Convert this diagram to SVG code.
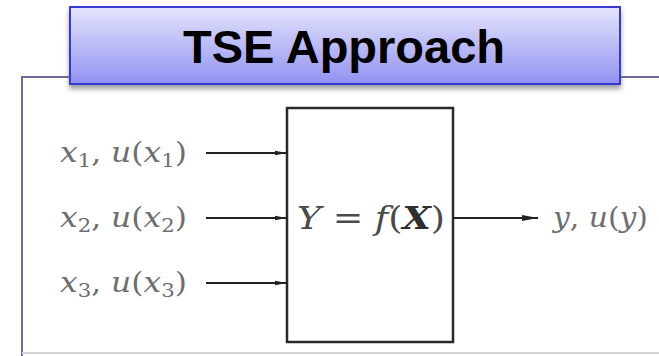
<svg xmlns="http://www.w3.org/2000/svg" width="659" height="356" viewBox="0 0 659 356">
  <defs>
    <linearGradient id="titleGrad" x1="0" y1="0" x2="0" y2="1">
      <stop offset="0" stop-color="#e4e4fc"/>
      <stop offset="1" stop-color="#9292f2"/>
    </linearGradient>
    <filter id="shadow" x="-5%" y="-20%" width="110%" height="150%">
      <feDropShadow dx="0" dy="4" stdDeviation="2.5" flood-color="#777" flood-opacity="0.7"/>
    </filter>
    <marker id="ah" viewBox="0 0 12 6" refX="12" refY="3" markerWidth="12" markerHeight="6" markerUnits="userSpaceOnUse" orient="auto">
      <path d="M0,0.8 L12,3 L0,5.2 Z" fill="#222"/>
    </marker>
    <marker id="ahOut" viewBox="0 0 16 7" refX="16" refY="3.5" markerWidth="16" markerHeight="7" markerUnits="userSpaceOnUse" orient="auto">
      <path d="M0,0.5 L16,3.5 L0,6.5 Z" fill="#222"/>
    </marker>
    <style>
      .frame { fill: none; stroke: #6c6c9c; stroke-width: 2; }
      .floor { fill: none; stroke: #d4d4d8; stroke-width: 2; }
      .title { font-family: "Liberation Sans", Arial, sans-serif; font-weight: bold; font-size: 46px; fill: #000; }
      .block { fill: #fff; stroke: #2a2a2a; stroke-width: 2.5; }
      .conn { fill: none; stroke: #222; stroke-width: 1.8; }
      .lbl { font-family: "DejaVu Serif", "Liberation Serif", serif; font-size: 28px; fill: #6e6e6e; }
      .fx { font-family: "DejaVu Serif", "Liberation Serif", serif; font-size: 31px; fill: #4a4a4a; }
      .i { font-style: italic; }
      .sub { font-size: 19px; }
      .bx { font-weight: bold; font-style: italic; fill: #2e2e2e; }
    </style>
  </defs>

  <rect width="659" height="356" fill="#ffffff"/>

  <g id="frame">
    <path class="frame" d="M22,356 V77 H659"/>
    <path class="floor" d="M22,353 H659"/>
  </g>

  <g id="title">
    <rect x="70" y="7" width="550" height="77" fill="url(#titleGrad)" stroke="#3838d2" stroke-width="2" filter="url(#shadow)"/>
    <text class="title" x="344" y="63" text-anchor="middle" textLength="322" lengthAdjust="spacingAndGlyphs">TSE Approach</text>
  </g>

  <g id="block">
    <rect class="block" x="287" y="108" width="166" height="234"/>
    <text class="fx" x="297" y="229" textLength="148" lengthAdjust="spacingAndGlyphs"><tspan class="i">Y</tspan> = <tspan class="i">f</tspan>(<tspan class="bx">X</tspan>)</text>
  </g>

  <g id="input1">
    <text class="lbl" x="60" y="162" textLength="127" lengthAdjust="spacingAndGlyphs"><tspan class="i">x</tspan><tspan class="sub" dy="5">1</tspan><tspan dy="-5">, </tspan><tspan class="i">u</tspan>(<tspan class="i">x</tspan><tspan class="sub" dy="5">1</tspan><tspan dy="-5">)</tspan></text>
  </g>
  <g id="input2">
    <text class="lbl" x="60" y="227" textLength="127" lengthAdjust="spacingAndGlyphs"><tspan class="i">x</tspan><tspan class="sub" dy="5">2</tspan><tspan dy="-5">, </tspan><tspan class="i">u</tspan>(<tspan class="i">x</tspan><tspan class="sub" dy="5">2</tspan><tspan dy="-5">)</tspan></text>
  </g>
  <g id="input3">
    <text class="lbl" x="60" y="292" textLength="127" lengthAdjust="spacingAndGlyphs"><tspan class="i">x</tspan><tspan class="sub" dy="5">3</tspan><tspan dy="-5">, </tspan><tspan class="i">u</tspan>(<tspan class="i">x</tspan><tspan class="sub" dy="5">3</tspan><tspan dy="-5">)</tspan></text>
  </g>
  <g id="output">
    <text class="lbl" x="553" y="227" textLength="95" lengthAdjust="spacingAndGlyphs"><tspan class="i">y</tspan>, <tspan class="i">u</tspan>(<tspan class="i">y</tspan>)</text>
  </g>

  <g id="connectors">
    <line class="conn" x1="206" y1="153" x2="287" y2="153" marker-end="url(#ah)"/>
    <line class="conn" x1="206" y1="218" x2="287" y2="218" marker-end="url(#ah)"/>
    <line class="conn" x1="206" y1="283" x2="287" y2="283" marker-end="url(#ah)"/>
    <line class="conn" x1="454" y1="218" x2="538" y2="218" marker-end="url(#ahOut)"/>
  </g>
</svg>
